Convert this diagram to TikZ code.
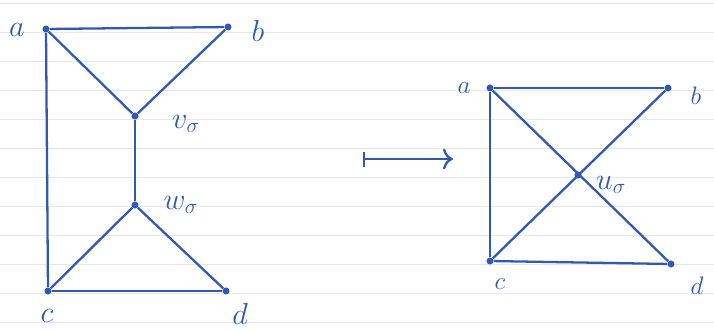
\documentclass[tikz,border=0pt]{standalone}
\usepackage{amsmath,amssymb}
\usepackage{xcolor}
\usepackage{tikz}
\usetikzlibrary{arrows.meta,positioning,calc}
\definecolor{inkblue}{HTML}{3358B4}
\definecolor{gridgray}{HTML}{E6E8EC}

\begin{document}
\begin{tikzpicture}[
  x=0.02cm, y=-0.02cm,
  vtx/.style={circle, fill=inkblue, inner sep=0pt, minimum size=4pt},
  lbl/.style={text=inkblue, font=\LARGE, inner sep=1pt},
  slbl/.style={text=inkblue, font=\Large, inner sep=1pt},
  edge/.style={draw=inkblue, line width=1.3pt},
  maparr/.style={{Bar[width=3mm]}-{To[length=2mm]}, draw=inkblue, line width=1.3pt}
]
  \useasboundingbox (0,0) rectangle (714,329);
  % paper lines
  \foreach \y in {3,32,61,90,119,148,177,206,235,264,293,322}
    \draw[gridgray, line width=0.5pt] (0,\y) -- (714,\y);

  % left graph
  \node[vtx] (a) at (46,29) {};
  \node[vtx] (b) at (228,27) {};
  \node[vtx] (v) at (135,116) {};
  \node[vtx] (w) at (135,205) {};
  \node[vtx] (c) at (48,291) {};
  \node[vtx] (d) at (226,291) {};
  \node[lbl] (la) at (17,30) {$a$};
  \node[lbl] (lb) at (258,31) {$b$};
  \node[lbl] (lv) at (186,124) {$v_\sigma$};
  \node[lbl] (lw) at (181,205) {$w_\sigma$};
  \node[lbl] (lc) at (47,316) {$c$};
  \node[lbl] (ld) at (240,314) {$d$};
  \draw[edge] (a) -- (b);
  \draw[edge] (a) -- (c);
  \draw[edge] (c) -- (d);
  \draw[edge] (a) -- (v);
  \draw[edge] (b) -- (v);
  \draw[edge] (v) -- (w);
  \draw[edge] (w) -- (c);
  \draw[edge] (w) -- (d);

  % map arrow
  \coordinate (m1) at (363,159);
  \coordinate (m2) at (453,159);
  \draw[maparr] (m1) -- (m2);

  % right graph
  \node[vtx] (a2) at (490,88) {};
  \node[vtx] (b2) at (668,88) {};
  \node[vtx] (u) at (578,175) {};
  \node[vtx] (c2) at (490,261) {};
  \node[vtx] (d2) at (671,264) {};
  \node[slbl] (la2) at (464,88) {$a$};
  \node[slbl] (lb2) at (696,96) {$b$};
  \node[lbl] (lu) at (611,185) {$u_\sigma$};
  \node[slbl] (lc2) at (500,284) {$c$};
  \node[slbl] (ld2) at (697,286) {$d$};
  \draw[edge] (a2) -- (b2);
  \draw[edge] (a2) -- (c2);
  \draw[edge] (c2) -- (d2);
  \draw[edge] (a2) -- (d2);
  \draw[edge] (c2) -- (b2);
\end{tikzpicture}
\end{document}
